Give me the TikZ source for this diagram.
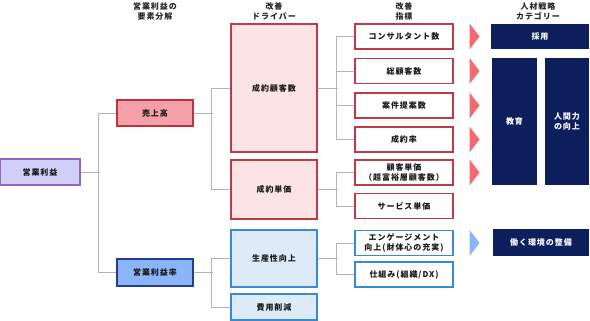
\documentclass[tikz,border=0pt]{standalone}
\usepackage{fontspec}
\setmainfont{Noto Sans CJK JP}[LetterSpace=12]
\usetikzlibrary{positioning,calc}

\definecolor{rootfill}{HTML}{D2CEFA}
\definecolor{rootline}{HTML}{9464C4}
\definecolor{salesfill}{HTML}{F4A0A8}
\definecolor{salesline}{HTML}{C0303E}
\definecolor{marginfill}{HTML}{8CB4F8}
\definecolor{marginline}{HTML}{223F8E}
\definecolor{pinkfill}{HTML}{FCE4E6}
\definecolor{redline}{HTML}{BE3A46}
\definecolor{skyfill}{HTML}{DDEAF7}
\definecolor{blueline}{HTML}{3A8AD2}
\definecolor{tripink}{HTML}{F26A72}
\definecolor{triblue}{HTML}{8CB4FA}
\definecolor{navy}{HTML}{0C1F5C}
\definecolor{connline}{HTML}{B4B4B4}

\tikzset{
  box/.style={draw, line width=1.1pt, inner sep=0pt, align=center,
    font=\bfseries\fontsize{8}{9.5}\selectfont, text=black!90},
  rootbox/.style={box, draw=rootline, fill=rootfill},
  salesbox/.style={box, draw=salesline, fill=salesfill},
  marginbox/.style={box, draw=marginline, fill=marginfill},
  drvred/.style={box, draw=redline, fill=pinkfill, minimum width=86},
  drvblue/.style={box, draw=blueline, fill=skyfill, minimum width=86},
  kpired/.style={box, draw=redline, fill=white, minimum width=98, minimum height=25},
  kpiblue/.style={box, draw=blueline, fill=white, minimum width=98, minimum height=25},
  catbox/.style={box, draw=none, fill=navy, text=white},
  head/.style={align=center, inner sep=0pt,
    font=\bfseries\fontsize{8}{10}\selectfont, text=black!85},
  conn/.style={draw=connline, line width=0.9pt}
}

\begin{document}
\begin{tikzpicture}[x=1pt, y=-1pt]
        \useasboundingbox (0,0) rectangle (590,321);

        % Column headings
        \node[head] (hdecomp) at (155,11) {営業利益の\\要素分解};
        \node[head] (hdriver) at (274,11) {改善\\ドライバー};
        \node[head] (hkpi) at (404,11) {改善\\指標};
        \node[head] (hcat) at (538,11) {人材戦略\\カテゴリー};

        % Operating profit (root)
        \node[rootbox, minimum width=80, minimum height=26] (gross) at (40,172) {営業利益};

        % Decomposition
        \node[salesbox, minimum width=76, minimum height=26] (sales) at (155,113) {売上高};
        \node[marginbox, minimum width=76, minimum height=27] (margin) at (155,272.5) {営業利益率};

        % Improvement drivers
        \node[drvred, minimum height=128] (custnum) at (274,88) {成約顧客数};
        \node[drvred, minimum height=59] (unitprice) at (274,189.5) {成約単価};
        \node[drvblue, minimum height=57] (prod) at (274,258.5) {生産性向上};
        \node[drvblue, minimum height=26] (cost) at (274,307) {費用削減};

        % Improvement indicators
        \node[kpired] (consult) at (404,36.5) {コンサルタント数};
        \node[kpired] (total) at (404,71) {総顧客数};
        \node[kpired] (proposal) at (404,105.5) {案件提案数};
        \node[kpired] (closing) at (404,139.5) {成約率};
        \node[kpired] (custprice) at (404,172.5) {顧客単価\\（超富裕層顧客数）};
        \node[kpired] (service) at (404,206) {サービス単価};
        \node[kpiblue] (engage) at (404,243) {エンゲージメント\\向上(財体心の充実)};
        \node[kpiblue] (system) at (404,274.5) {仕組み(組織/DX)};

        % Tree connectors
        \draw[conn] (gross.east) -- ++(19,0);
        \draw[conn] (sales.west) -- ++(-18,0) |- (margin.west);
        \draw[conn] (sales.east) -- ++(19,0);
        \draw[conn] (custnum.west) -- ++(-19,0) |- (unitprice.west);
        \draw[conn] (margin.east) -- ++(19,0);
        \draw[conn] (prod.west) -- ++(-19,0) |- (cost.west);
        \draw[conn] (custnum.east) -- ++(20,0);
        \draw[conn] (consult.west) -- ++(-18,0) |- (closing.west);
        \draw[conn] (total.west) -- ++(-18,0);
        \draw[conn] (proposal.west) -- ++(-18,0);
        \draw[conn] (unitprice.east) -- ++(20,0);
        \draw[conn] (custprice.west) -- ++(-18,0) |- (service.west);
        \draw[conn] (prod.east) -- ++(20,0);
        \draw[conn] (engage.west) -- ++(-18,0) |- (system.west);

        % Pointers to the categories
        \fill[tripink] ($(consult.east)+(16,-13)$) -- ++(10,13) -- ++(-10,13) -- cycle;
        \fill[tripink] ($(total.east)+(16,-13)$) -- ++(10,13) -- ++(-10,13) -- cycle;
        \fill[tripink] ($(proposal.east)+(16,-13)$) -- ++(10,13) -- ++(-10,13) -- cycle;
        \fill[tripink] ($(closing.east)+(16,-13)$) -- ++(10,13) -- ++(-10,13) -- cycle;
        \fill[tripink] ($(custprice.east)+(16,-13)$) -- ++(10,13) -- ++(-10,13) -- cycle;
        \fill[triblue] ($(engage.east)+(16,-13)$) -- ++(10,13) -- ++(-10,13) -- cycle;

        % HR strategy categories
        \node[catbox, minimum width=98, minimum height=25] (hire) at (540,36.5) {採用};
        \node[catbox, minimum width=45, minimum height=127] (edu) at (514.5,121.5) {教育};
        \node[catbox, minimum width=44, minimum height=127] (human) at (567,121.5) {人間力\\の向上};
        \node[catbox, minimum width=96, minimum height=27] (env) at (541,242.5) {働く環境の整備};
    \end{tikzpicture}
\end{document}
